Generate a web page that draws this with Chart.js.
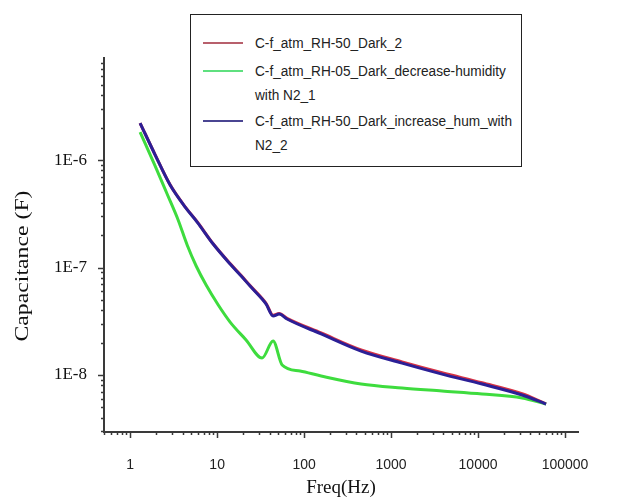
<!DOCTYPE html>
<html>
<head>
<meta charset="utf-8">
<script src="https://cdn.jsdelivr.net/npm/chart.js@4.4.1/dist/chart.umd.min.js"></script>
<style>
  html, body { margin: 0; padding: 0; background: #fff; }
  #wrap { position: relative; width: 630px; height: 499px; }
  #legend {
    position: absolute; left: 190px; top: 14px; width: 330px; height: 151px;
    border: 1.5px solid #222; background: #fff;
    font-family: "Liberation Sans", Arial, sans-serif; font-size: 15.5px; color: #222;
  }
  .row { position: absolute; left: 12px; }
  .swatch { position: absolute; left: 0; width: 40px; height: 2px; }
  .txt { position: absolute; left: 52px; white-space: nowrap; line-height: 24px;
         transform: scaleX(0.88); transform-origin: 0 0; }
</style>
</head>
<body>
<div id="wrap">
  <canvas id="chart" width="630" height="499"></canvas>
  <div id="legend"></div>
</div>
<script>
// 주파수 (Hz) - RH-50 두 측정은 같은 주파수 사용
const freqHz = [1.30, 1.94, 2.88, 4.29, 5.89, 9.0, 14.1, 18.9, 23.9, 32.9, 36.6, 44.0, 51.6, 63.7, 157, 452, 1337, 3855, 11120, 32060, 60500];
const capRH50Dark2 = [2.21e-6, 1.115e-6, 5.88e-7, 3.67e-7, 2.67e-7, 1.665e-7, 1.088e-7, 8.42e-8, 6.8e-8, 5.15e-8, 4.63e-8, 3.59e-8, 3.74e-8, 3.37e-8, 2.46e-8, 1.71e-8, 1.325e-8, 1.05e-8, 8.48e-9, 6.7e-9, 5.39e-9];
const capRH50Increase = [2.21e-6, 1.113e-6, 5.85e-7, 3.65e-7, 2.65e-7, 1.654e-7, 1.078e-7, 8.33e-8, 6.73e-8, 5.09e-8, 4.57e-8, 3.54e-8, 3.69e-8, 3.32e-8, 2.41e-8, 1.67e-8, 1.29e-8, 1.02e-8, 8.24e-9, 6.52e-9, 5.37e-9];

// RH-05 감습 측정
const freqRH05 = [1.30, 1.94, 2.66, 3.56, 4.52, 5.74, 7.47, 10.3, 14.1, 21.5, 32.9, 44.0, 55.9, 89.9, 157, 452, 1337, 3855, 11120, 32060, 60500];
const capRH05Decrease = [1.82e-6, 8.79e-7, 4.83e-7, 2.77e-7, 1.62e-7, 1.033e-7, 6.87e-8, 4.48e-8, 3.11e-8, 2.12e-8, 1.44e-8, 2.07e-8, 1.24e-8, 1.09e-8, 9.79e-9, 8.25e-9, 7.57e-9, 7.10e-9, 6.66e-9, 6.11e-9, 5.37e-9];

const seriesNames = [
    'C-f_atm_RH-50_Dark_2',
    'C-f_atm_RH-05_Dark_decrease-humidity\nwith N2_1',
    'C-f_atm_RH-50_Dark_increase_hum_with\nN2_2'
];
const seriesColors = ['#d83344', '#3edc3e', '#2b1f96'];
const swatchColors = ['#b8606c', '#5fe07f', '#4a4592'];
// 그리는 순서: 값이 클수록 먼저(아래) 그려짐
const drawOrder = [2, 1, 0];

const xRange = [0.5, 141000];
const yRange = [2.95e-9, 8.9e-6];

function toPoints(xs, ys) {
    return xs.map((x, i) => ({ x: x, y: ys[i] }));
}

function isDecade(v) {
    const l = Math.log10(v);
    return Math.abs(l - Math.round(l)) < 1e-6;
}

function buildLogTicks(scale) {
    const ticks = [];
    const lo = Math.floor(Math.log10(scale.min));
    const hi = Math.ceil(Math.log10(scale.max));
    for (let e = lo; e <= hi; e++) {
        for (let k = 1; k <= 9; k++) {
            const v = k * Math.pow(10, e);
            if (v >= scale.min && v <= scale.max) ticks.push({ value: v });
        }
    }
    scale.ticks = ticks;
}

// 눈금선 (주눈금 길게, 보조눈금 짧게) + 세로축 제목
const axisDecor = {
    id: 'axisDecor',
    afterDraw(chart) {
        const ctx = chart.ctx;
        const xs = chart.scales.x, ys = chart.scales.y;
        ctx.save();
        ctx.strokeStyle = '#3a3a3a';
        ctx.lineWidth = 1.5;
        xs.ticks.forEach(t => {
            const px = Math.round(xs.getPixelForValue(t.value)) + 0.5;
            const len = isDecade(t.value) ? 6 : 3;
            ctx.beginPath();
            ctx.moveTo(px, xs.top);
            ctx.lineTo(px, xs.top + len);
            ctx.stroke();
        });
        ys.ticks.forEach(t => {
            const py = Math.round(ys.getPixelForValue(t.value)) + 0.5;
            const len = isDecade(t.value) ? 6 : 3;
            ctx.beginPath();
            ctx.moveTo(ys.right, py);
            ctx.lineTo(ys.right - len, py);
            ctx.stroke();
        });

        // 세로축 제목 (원본처럼 길게 늘어진 글자)
        ctx.translate(23, 266);
        ctx.rotate(-Math.PI / 2);
        ctx.scale(1.32, 1);
        ctx.fillStyle = '#111';
        ctx.font = '18px "Liberation Serif", "Times New Roman", serif';
        ctx.textAlign = 'center';
        ctx.textBaseline = 'middle';
        ctx.fillText('Capacitance (F)', 0, 0);
        ctx.restore();
    }
};

const datasets = [
    { data: toPoints(freqHz, capRH50Dark2), color: seriesColors[0], width: 3 },
    { data: toPoints(freqRH05, capRH05Decrease), color: seriesColors[1], width: 3 },
    { data: toPoints(freqHz, capRH50Increase), color: seriesColors[2], width: 3 }
].map((d, i) => ({
    label: seriesNames[i],
    data: d.data,
    order: drawOrder[i],
    borderColor: d.color,
    borderWidth: d.width,
    pointRadius: 0,
    showLine: true,
    fill: false,
    cubicInterpolationMode: 'monotone'
}));

new Chart(document.getElementById('chart'), {
    type: 'scatter',
    data: { datasets: datasets },
    options: {
        responsive: false,
        animation: false,
        devicePixelRatio: 1,
        layout: { padding: { top: 58, right: 52, left: 0, bottom: 0 } },
        plugins: {
            legend: { display: false },
            tooltip: { enabled: false }
        },
        scales: {
            x: {
                type: 'logarithmic',
                min: xRange[0],
                max: xRange[1],
                afterBuildTicks: buildLogTicks,
                afterFit: s => { s.height = 67; },
                grid: { display: false },
                border: { display: true, color: '#3a3a3a', width: 2 },
                ticks: {
                    autoSkip: false,
                    maxRotation: 0,
                    padding: 17,
                    color: '#222',
                    font: { family: '"Liberation Sans", Arial, sans-serif', size: 14 },
                    callback: v => isDecade(v) ? String(Math.round(v)) : ''
                },
                title: {
                    display: true,
                    text: 'Freq(Hz)',
                    color: '#111',
                    padding: { top: 6, bottom: 0 },
                    font: { family: '"Liberation Serif", "Times New Roman", serif', size: 19 }
                }
            },
            y: {
                type: 'logarithmic',
                min: yRange[0],
                max: yRange[1],
                afterBuildTicks: buildLogTicks,
                afterFit: s => { s.width = 104; },
                grid: { display: false },
                border: { display: true, color: '#3a3a3a', width: 2 },
                ticks: {
                    autoSkip: false,
                    padding: 9,
                    color: '#111',
                    font: { family: '"Liberation Serif", "Times New Roman", serif', size: 17 },
                    callback: v => isDecade(v) ? '1E' + Math.round(Math.log10(v)) : ''
                }
            }
        }
    },
    plugins: [axisDecor]
});

// 범례 (줄바꿈 포함)
const legendEl = document.getElementById('legend');
const rowTops = [16, 44, 94];
seriesNames.forEach((name, i) => {
    const row = document.createElement('div');
    row.className = 'row';
    row.style.top = rowTops[i] + 'px';
    const sw = document.createElement('div');
    sw.className = 'swatch';
    sw.style.top = '11px';
    sw.style.background = swatchColors[i];
    const tx = document.createElement('div');
    tx.className = 'txt';
    tx.innerHTML = name.split('\n').join('<br>');
    row.appendChild(sw);
    row.appendChild(tx);
    legendEl.appendChild(row);
});
</script>
</body>
</html>
